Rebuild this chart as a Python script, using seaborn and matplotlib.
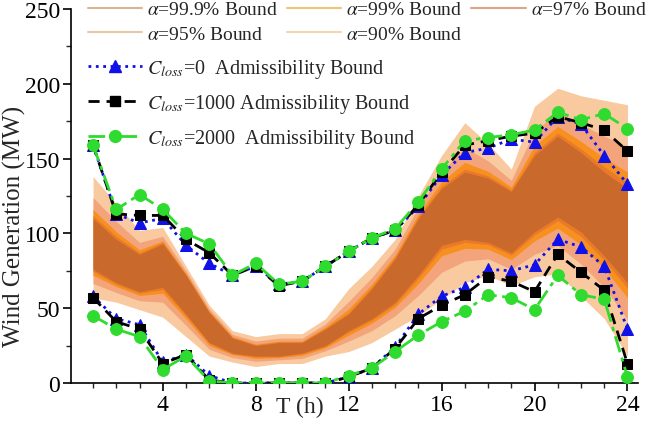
import numpy as np
import pandas as pd
import seaborn as sns
import matplotlib
matplotlib.use("Agg")
import matplotlib.pyplot as plt
from matplotlib.lines import Line2D
from matplotlib.ticker import MultipleLocator

# ---------------- data ----------------
hours = list(range(1, 25))

# probability bands (upper / lower bounds)
up999 = [138, 120, 102, 104, 78, 52, 35, 31, 33, 33, 43, 63, 78, 96, 125, 152, 174, 160, 143, 185, 197, 192, 189, 186]
up99  = [124, 108, 94, 98, 75, 49.5, 32.5, 28, 30, 30, 39.5, 54.5, 70.5, 89.5, 117.5, 141, 157.5, 148.5, 135.5, 168.5, 181, 173, 165, 158]
up97  = [116, 101, 89, 95, 73, 48, 31, 26, 28, 28, 37.5, 49.5, 66, 85.5, 113, 134.5, 147.5, 141.5, 131, 158.5, 171.5, 161.5, 150.5, 141]
up95  = [112, 98, 87, 94, 72.5, 47.5, 30.5, 25.5, 27.5, 27.5, 36.5, 47, 64, 84, 111, 131.5, 143, 138.5, 129, 154, 167, 156.5, 144.5, 134]
up90  = [110, 96, 86, 93, 72, 47, 30, 25, 27, 27, 36, 46, 63, 83, 110, 130, 141, 137, 128, 152, 165, 154, 141, 130]
lo90  = [76, 67, 61, 64, 46, 27, 20, 18, 18, 20, 25, 35, 43, 54, 72, 92, 96, 94, 87, 101, 111, 101, 85, 67]
lo95  = [74.5, 66, 60, 62.5, 45, 26.5, 19.5, 17.5, 17.5, 19.5, 24.5, 34, 42, 52.5, 70, 89.5, 94, 92.5, 85.5, 99, 108.5, 98, 82, 63.5]
lo97  = [72, 64.5, 58.5, 60, 43, 25, 19, 16.5, 17, 18.5, 23.5, 32, 40, 50.5, 66.5, 85, 90, 89.5, 82.5, 95, 103.5, 92.5, 76.5, 57]
lo99  = [66.5, 60.5, 55, 54, 38.5, 22.5, 17, 14.5, 15.5, 16.5, 21.5, 28, 35, 45, 58.5, 74, 81.5, 83, 76, 86, 92, 79.5, 64, 42.5]
lo999 = [57, 54, 49, 44, 31, 18, 14, 11, 13, 13, 18, 21, 27, 36, 45, 56, 67, 72, 65, 71, 73, 58, 43, 18]

# admissibility bounds
c0_upper    = [159, 113, 107, 110, 92, 80, 72, 78, 66, 68, 78, 88, 97, 102, 118, 139, 154, 157, 163, 161, 178, 173, 152, 133]
c0_lower    = [58, 43, 39, 14, 19, 5, 0, 0, 0, 0, 0, 4, 10, 24, 46, 58, 64, 76, 75, 79, 96, 91, 78, 36]
c1000_upper = [159, 113, 112, 112, 96, 87, 72, 78, 65, 68, 78, 88, 97, 102, 119, 141, 159, 162, 165, 167, 178, 174, 169, 155]
c1000_lower = [57, 41, 36, 13, 19, 2, 0, 0, 0, 0, 0, 4, 10, 23, 43, 52, 59, 71, 68, 61, 86, 74, 62, 13]
c2000_upper = [159, 116, 126, 116, 100, 93, 72, 80, 66, 68, 78, 88, 97, 103, 121, 143, 162, 164, 166, 169, 181, 176, 180, 170]
c2000_lower = [45, 36, 31, 9, 18, 1.5, 0, 0, 0, 0, 0, 5, 10, 21, 32, 41, 48, 59, 57, 49, 72, 59, 56, 4]

band_labels = ["99.9", "99", "97", "95", "90"]
x_tick_labels = ["4", "8", "12", "16", "20", "24"]
y_tick_labels = ["0", "50", "100", "150", "200", "250"]

# ---------------- style ----------------
sns.set_style("ticks")
plt.rcParams["font.family"] = ["Liberation Serif", "DejaVu Serif"]
plt.rcParams["mathtext.fontset"] = "stix"

fig = plt.figure(figsize=(6.59, 4.27), dpi=100)
ax = fig.add_axes([0.1077, 0.1007, 0.8603, 0.8759])

band_fill = ["#F9C9A0", "#F3A47B", "#F7901F", "#E87A2A", "#C96A2C"]
band_leg = ["#D8B691", "#EFC27A", "#DDA585", "#E6C8A8", "#F0D6B4"]
uppers = [up999, up99, up97, up95, up90]
lowers = [lo999, lo99, lo97, lo95, lo90]
for up, lo, col in zip(uppers, lowers, band_fill):
    ax.fill_between(hours, lo, up, color=col, linewidth=0, zorder=1)

df = pd.DataFrame({
    "h": hours,
    "c0u": c0_upper, "c0l": c0_lower,
    "c1u": c1000_upper, "c1l": c1000_lower,
    "c2u": c2000_upper, "c2l": c2000_lower,
})

series = [
    ("c0u", "c0l", "#1010E8", "^", ":", 8, r"$C_{loss}$=0  Admissibility Bound"),
    ("c1u", "c1l", "#000000", "s", (0, (4, 2.5)), 7, r"$C_{loss}$=1000 Admissibility Bound"),
    ("c2u", "c2l", "#2EDB2E", "o", (0, (6, 2, 1.5, 2)), 8.5, r"$C_{loss}$=2000  Admissibility Bound"),
]
line_handles = []
for i, (cu, cl, col, mk, ls, ms, lab) in enumerate(series):
    for key in (cu, cl):
        sns.lineplot(data=df, x="h", y=key, ax=ax, color=col, marker=mk,
                     markersize=ms, markeredgecolor=col, markerfacecolor=col,
                     linewidth=2.0, linestyle=ls, estimator=None,
                     zorder=3 + i, legend=False)
    line_handles.append(Line2D([0], [0], color=col, marker=mk, markersize=ms,
                               markeredgecolor=col, linestyle=ls, linewidth=2.0, label=lab))

# ---------------- axes ----------------
ax.set_xlim(0.05, 24.45)
ax.set_ylim(0, 250)
ax.xaxis.set_minor_locator(MultipleLocator(1))
ax.yaxis.set_minor_locator(MultipleLocator(25))
ax.set_xticks([4, 8, 12, 16, 20, 24])
ax.set_xticklabels(x_tick_labels)
ax.set_yticks([0, 50, 100, 150, 200, 250])
ax.set_yticklabels(y_tick_labels)
ax.tick_params(axis="both", which="major", direction="out", length=6, width=1.2,
               labelsize=17, pad=2, colors="black")
ax.tick_params(axis="both", which="minor", direction="out", length=3.5, width=1.0)
for s in ("top", "right"):
    ax.spines[s].set_visible(False)
for s in ("left", "bottom"):
    ax.spines[s].set_linewidth(1.2)
    ax.spines[s].set_color("black")

ax.set_ylabel("Wind Generation (MW)", fontsize=18)
ax.yaxis.set_label_coords(-0.079, 0.42)
ax.set_xlabel("T (h)", fontsize=17)
ax.xaxis.set_label_coords(0.404, -0.035)

# ---------------- legends ----------------
band_handles = [Line2D([0], [0], color=c, linewidth=1.5,
                       label=r"$\alpha$=" + b + "% Bound")
                for b, c in zip(band_labels, band_leg)]
# matplotlib fills legend columns first: reorder so rows read 99.9, 99, 97 / 95, 90
order = [0, 3, 1, 4, 2]
leg1 = ax.legend(handles=[band_handles[k] for k in order], ncol=3, loc="upper left",
                 bbox_to_anchor=(0.03, 1.022), frameon=False, fontsize=14,
                 handlelength=2.8, handletextpad=0.25, columnspacing=0.45,
                 labelspacing=0.35, borderpad=0, borderaxespad=0)
ax.add_artist(leg1)
ax.legend(handles=line_handles, loc="upper left", bbox_to_anchor=(0.03, 0.872),
          frameon=False, fontsize=14.5, handlelength=2.7, handletextpad=0.25,
          labelspacing=0.6, borderpad=0, borderaxespad=0, numpoints=1)

fig.savefig("out.png", dpi=100)
